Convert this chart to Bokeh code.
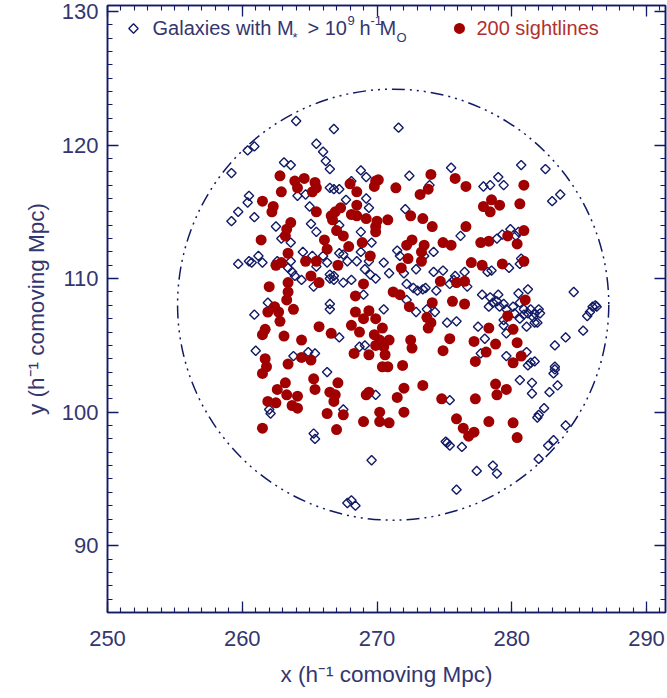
import math
from bokeh.plotting import figure
from bokeh.models import Range1d, LinearAxis, SingleIntervalTicker, Label
from bokeh.embed import file_html
from bokeh.resources import INLINE

# ---- data (h^-1 comoving Mpc) ----
sight_x = [274.0, 262.8, 263.9, 264.6, 264.1, 265.4, 265.5, 265.2, 262.9, 268.0,
           268.5, 269.9, 270.1, 269.8, 271.4, 275.8, 276.6, 280.9, 273.8, 273.2,
           261.5, 262.3, 262.2, 278.5, 277.9, 278.4, 279.1, 280.6, 265.5, 267.3,
           266.9, 266.6, 266.7, 268.5, 268.1, 268.5, 269.2, 270.0, 269.9, 269.9,
           270.8, 272.5, 273.4, 274.1, 276.6, 280.9, 263.6, 263.3, 263.2, 261.4,
           267.0, 267.5, 266.1, 266.3, 267.9, 268.9, 269.5, 279.7, 280.4, 277.7,
           278.3, 274.9, 275.5, 272.2, 272.6, 273.5, 272.3, 273.3, 271.8, 263.4,
           262.5, 262.9, 264.7, 265.5, 267.1, 277.0, 277.8, 279.3, 280.9, 265.1,
           265.7, 269.0, 268.4, 274.7, 275.9, 276.5, 262.0, 263.4, 263.4, 263.3,
           271.2, 271.7, 262.4, 261.9, 262.7, 263.8, 275.6, 276.5, 274.1, 272.4,
           281.0, 279.7, 268.4, 269.4, 269.0, 269.9, 273.7, 274.0, 273.8, 262.8,
           261.7, 261.5, 265.7, 266.6, 268.1, 268.7, 270.4, 269.8, 270.2, 270.9,
           278.3, 280.1, 263.1, 264.4, 275.4, 277.2, 272.5, 272.6, 278.8, 280.4,
           269.9, 270.5, 270.6, 268.3, 269.4, 274.9, 278.1, 264.4, 265.1, 261.7,
           261.8, 261.5, 263.4, 270.4, 270.8, 271.9, 277.3, 280.7, 280.1, 265.3,
           267.1, 265.4, 263.2, 262.6, 263.3, 264.1, 266.5, 266.9, 266.8, 269.4,
           269.2, 272.0, 273.4, 271.5, 278.8, 278.9, 279.6, 277.3, 274.8, 261.9,
           262.5, 263.7, 264.1, 266.3, 267.5, 270.2, 272.0, 269.0, 270.2, 270.9,
           275.9, 278.3, 280.1, 276.4, 277.2, 276.8, 280.4, 261.5, 267.0, 273.3]
sight_y = [117.8, 117.7, 117.3, 117.5, 116.8, 117.2, 116.8, 116.5, 116.5, 117.1,
           116.5, 117.3, 117.4, 116.9, 116.8, 117.5, 116.9, 117.0, 116.7, 116.3,
           115.8, 115.4, 115.0, 115.9, 115.4, 115.0, 115.5, 115.6, 115.0, 115.3,
           115.0, 114.7, 114.4, 115.5, 114.8, 114.7, 114.5, 114.3, 113.9, 113.5,
           114.4, 114.7, 114.5, 113.9, 113.9, 113.6, 114.2, 113.7, 113.2, 112.9,
           113.6, 113.2, 112.9, 112.2, 112.4, 112.7, 111.7, 113.2, 112.6, 112.7,
           112.8, 112.7, 112.5, 112.5, 112.9, 112.5, 111.5, 111.3, 110.8, 111.9,
           111.0, 111.2, 111.3, 111.3, 111.0, 111.2, 111.0, 111.1, 111.3, 110.2,
           109.7, 109.6, 108.7, 109.8, 109.7, 109.8, 109.4, 109.7, 109.0, 108.4,
           109.0, 108.8, 107.9, 107.5, 107.5, 107.7, 108.3, 108.1, 108.2, 107.9,
           108.4, 107.2, 107.5, 107.6, 107.0, 107.0, 107.1, 106.7, 106.3, 106.8,
           106.2, 105.8, 106.4, 105.9, 106.5, 106.0, 106.3, 105.8, 105.4, 105.4,
           106.3, 106.2, 105.7, 105.4, 105.5, 105.3, 105.4, 104.8, 105.1, 105.2,
           105.0, 104.9, 104.3, 104.4, 104.3, 104.6, 104.5, 104.1, 103.9, 104.0,
           103.4, 102.9, 103.6, 103.4, 103.4, 103.5, 103.8, 104.2, 103.7, 102.5,
           102.2, 101.7, 102.2, 101.7, 101.3, 101.2, 101.5, 101.3, 100.8, 101.5,
           101.3, 101.8, 102.0, 101.1, 102.1, 101.3, 101.7, 101.0, 101.0, 100.8,
           100.7, 100.5, 100.3, 99.9, 99.8, 100.0, 100.0, 99.3, 99.3, 99.2,
           99.5, 99.3, 99.2, 98.8, 98.5, 98.2, 98.1, 98.8, 98.7, 112.0]

gal_x = [264.0, 266.8, 271.6, 260.4, 260.9, 259.2, 265.5, 266.0, 266.2, 266.5,
         263.1, 263.6, 268.8, 269.2, 268.1, 272.4, 275.5, 280.7, 282.5, 260.5,
         260.4, 259.7, 259.2, 260.9, 264.1, 264.7, 265.0, 266.5, 266.8, 267.2,
         267.7, 269.2, 269.4, 272.1, 273.9, 277.9, 278.4, 279.0, 279.4, 283.0,
         283.6, 262.5, 262.9, 263.6, 265.1, 265.5, 267.2, 268.8, 269.6, 276.2,
         278.9, 279.3, 279.9, 280.5, 280.3, 259.7, 260.5, 260.7, 261.2, 261.5,
         262.6, 263.4, 263.7, 263.9, 263.6, 264.4, 264.5, 265.2, 265.5, 266.0,
         266.3, 266.5, 266.8, 267.2, 267.5, 266.8, 267.5, 267.8, 268.1, 268.5,
         268.8, 269.1, 269.4, 269.5, 269.9, 270.5, 270.9, 271.5, 271.7, 272.0,
         272.2, 272.9, 273.5, 274.2, 274.2, 274.9, 275.7, 276.5, 275.8, 278.2,
         278.5, 279.8, 280.7, 280.6, 265.3, 266.5, 269.0, 272.7, 273.0, 273.4,
         273.6, 274.4, 275.4, 276.7, 272.2, 277.8, 279.0, 280.5, 281.2, 284.6,
         261.9, 266.5, 266.5, 270.5, 272.9, 273.7, 274.3, 260.9, 278.3, 278.6,
         278.9, 279.1, 279.4, 279.6, 280.1, 280.2, 280.9, 281.2, 281.6, 281.7,
         282.0, 280.6, 281.1, 281.7, 279.4, 275.2, 275.9, 277.5, 285.3, 285.6,
         285.8, 286.0, 286.2, 286.3, 267.2, 278.0, 283.2, 284.0, 261.0, 263.8,
         264.9, 265.4, 268.7, 269.1, 277.7, 279.6, 281.1, 281.4, 281.7, 266.3,
         280.6, 281.5, 281.5, 282.8, 283.4, 283.2, 283.1, 283.2, 269.9, 275.4,
         267.5, 262.0, 262.1, 265.3, 265.4, 281.9, 282.0, 282.4, 284.0, 275.1,
         275.2, 275.4, 276.3, 282.7, 283.1, 269.6, 282.0, 277.4, 278.6, 278.9,
         275.9, 267.8, 268.1, 268.4, 278.4, 280.6, 281.4, 282.1, 280.9, 281.9,
         279.4, 279.6, 281.2]
gal_y = [121.8, 121.2, 121.3, 119.6, 119.9, 117.9, 120.1, 119.5, 118.8, 118.2,
         118.7, 118.5, 118.1, 117.6, 117.3, 117.7, 118.3, 118.5, 118.2, 116.2,
         115.7, 115.0, 114.3, 114.6, 116.2, 116.3, 115.4, 116.8, 116.7, 116.7,
         115.9, 116.0, 115.3, 115.2, 117.0, 116.9, 117.0, 117.6, 117.0, 115.8,
         116.3, 113.9, 113.0, 112.7, 114.1, 113.5, 114.0, 113.5, 112.7, 113.2,
         113.0, 113.3, 113.7, 113.5, 113.2, 111.1, 111.3, 111.2, 111.7, 111.2,
         111.3, 110.8, 110.5, 110.2, 111.3, 109.9, 112.0, 111.7, 110.9, 111.7,
         111.2, 110.3, 110.2, 111.9, 111.8, 109.9, 109.7, 111.3, 109.9, 111.3,
         112.0, 110.7, 111.3, 110.3, 110.0, 111.2, 110.4, 112.1, 111.7, 110.4,
         109.6, 110.7, 111.7, 112.0, 110.5, 110.6, 109.9, 110.5, 110.2, 110.5,
         110.6, 110.8, 111.5, 111.1, 109.4, 110.0, 108.8, 109.3, 109.1, 109.2,
         109.3, 109.1, 109.6, 109.4, 108.4, 108.8, 108.8, 108.9, 109.2, 109.0,
         108.2, 108.1, 107.7, 107.7, 107.5, 107.7, 107.5, 107.3, 107.9, 108.2,
         108.3, 107.9, 108.1, 107.7, 107.9, 107.4, 107.7, 107.4, 107.1, 107.4,
         107.7, 107.0, 106.4, 106.7, 106.5, 106.7, 106.8, 106.4, 106.1, 107.2,
         107.5, 107.9, 108.0, 107.9, 105.6, 105.5, 105.0, 105.6, 104.6, 104.2,
         104.5, 104.4, 104.9, 105.0, 104.4, 104.2, 104.5, 103.7, 103.8, 103.0,
         102.4, 101.4, 102.2, 101.5, 102.0, 103.2, 102.9, 103.4, 101.3, 100.9,
         100.2, 100.2, 99.9, 98.4, 98.0, 99.6, 99.8, 100.3, 99.0, 97.8,
         97.7, 97.5, 97.4, 97.5, 97.9, 96.4, 96.5, 95.6, 96.0, 95.4,
         94.2, 93.2, 93.4, 93.0, 108.6, 108.2, 107.7, 107.4, 107.3, 106.7,
         106.9, 105.9, 103.5]

region_center_x = 271.2
region_center_y = 108.05
region_radius = 16.0

x_ticks_interval = 10
y_ticks_interval = 10

# ---- styles ----
NAVY = "#121a66"
TEXT = "#33366f"
RED = "#a00000"
RED_TEXT = "#b23030"
FONT = "Liberation Sans"

p = figure(width=667, height=698, output_backend="svg", toolbar_location=None,
           x_range=Range1d(250, 291.41), y_range=Range1d(85, 130.45),
           min_border_left=107, min_border_right=2, min_border_top=5,
           min_border_bottom=86, background_fill_color="white",
           border_fill_color="white")
p.xgrid.visible = False
p.ygrid.visible = False
p.outline_line_color = NAVY
p.outline_line_width = 1.5

def style_axis(ax, show_labels):
    ax.axis_line_color = NAVY
    ax.axis_line_width = 1.5
    ax.major_tick_line_color = NAVY
    ax.minor_tick_line_color = NAVY
    ax.major_tick_line_width = 1.3
    ax.minor_tick_line_width = 1.1
    ax.major_tick_in = 11
    ax.major_tick_out = 0
    ax.minor_tick_in = 5
    ax.minor_tick_out = 0
    if not show_labels:
        ax.major_label_text_font_size = "1px"
        ax.major_label_text_color = None
        ax.major_label_standoff = 0
    else:
        ax.major_label_text_font = FONT
        ax.major_label_text_font_size = "22px"
        ax.major_label_text_color = TEXT
        ax.axis_label_text_font = FONT
        ax.axis_label_text_font_size = "22.5px"
        ax.axis_label_text_font_style = "normal"
        ax.axis_label_text_color = TEXT

xt = SingleIntervalTicker(interval=x_ticks_interval, num_minor_ticks=10)
yt = SingleIntervalTicker(interval=y_ticks_interval, num_minor_ticks=10)

xa = p.xaxis[0]
xa.ticker = xt
style_axis(xa, True)
xa.axis_label = "x (h\u207b\u00b9 comoving Mpc)"
xa.major_label_standoff = 18
xa.axis_label_standoff = 13

ya = p.yaxis[0]
ya.ticker = yt
style_axis(ya, True)
ya.axis_label = "y (h\u207b\u00b9 comoving Mpc)"
ya.major_label_standoff = 9
ya.axis_label_standoff = 10

top = LinearAxis(ticker=SingleIntervalTicker(interval=x_ticks_interval, num_minor_ticks=10))
style_axis(top, False)
p.add_layout(top, "above")
right = LinearAxis(ticker=SingleIntervalTicker(interval=y_ticks_interval, num_minor_ticks=10))
style_axis(right, False)
p.add_layout(right, "right")

# region circle
p.circle(x=[region_center_x], y=[region_center_y], radius=region_radius,
         fill_color=None, line_color=NAVY, line_width=1.5,
         line_dash="13 5 2 5 2 5 2 5")

# galaxies (open diamonds)
p.scatter(gal_x, gal_y, marker="square", angle=math.pi / 4, size=6.6,
          fill_color=None, line_color=NAVY, line_width=1.4)
# sightlines
p.scatter(sight_x, sight_y, marker="circle", size=11,
          fill_color=RED, line_color=RED, line_width=0)

# legend
leg_y = 128.73
sup_y = 129.33
sub_y = 128.05
p.scatter([251.93], [leg_y], marker="square", angle=math.pi / 4, size=6.6,
          fill_color=None, line_color=NAVY, line_width=1.4)
p.scatter([276.12], [leg_y], marker="circle", size=11,
          fill_color=RED, line_color=RED, line_width=0)

def lab(x, y, t, size, color):
    p.add_layout(Label(x=x, y=y, text=t, text_font=FONT, text_font_size=size,
                       text_color=color, text_baseline="middle", text_align="left"))

lab(253.34, leg_y, "Galaxies with M", "20px", TEXT)
lab(263.73, sub_y, "*", "13px", TEXT)
lab(264.84, leg_y, "> 10", "20px", TEXT)
lab(267.81, sup_y, "9", "13px", TEXT)
lab(268.70, leg_y, "h", "20px", TEXT)
lab(269.52, sup_y, "-1", "13px", TEXT)
lab(270.19, leg_y, "M", "20px", TEXT)
lab(271.45, sub_y, "O", "13px", TEXT)
lab(277.38, leg_y, "200 sightlines", "20px", RED_TEXT)

open("out.html", "w").write(file_html(p, INLINE))
